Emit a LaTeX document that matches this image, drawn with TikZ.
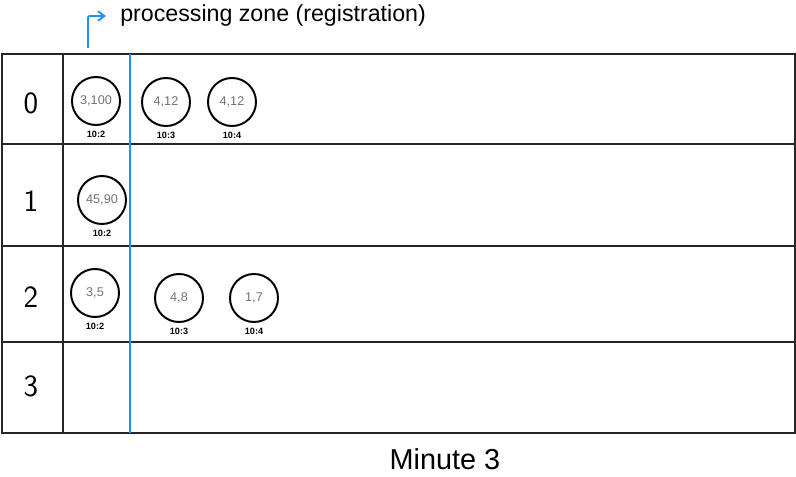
\documentclass[tikz,border=0pt]{standalone}
\usepackage{fontspec}
\setmainfont{Liberation Sans}
\usetikzlibrary{positioning, arrows.meta}

\begin{document}
\begin{tikzpicture}[
    x=0.025cm, y=-0.025cm,
    grid/.style={line width=1.4pt, draw=black!85},
    zoneline/.style={line width=1.3pt, draw={rgb,255:red,30;green,144;blue,255}},
    zonearrow/.style={zoneline, -{Straight Barb[length=1.6mm, width=2.4mm]}, rounded corners=1pt},
    rowlabel/.style={font=\fontsize{22}{24}\selectfont\sffamily, inner sep=0pt},
    bubble/.style={circle, draw=black, line width=1.4pt, minimum size=1.2cm, inner sep=0pt,
                   font=\fontsize{9}{10}\selectfont, text=black!55},
    stamp/.style={font=\fontsize{6.5}{7}\selectfont\bfseries, inner sep=0pt, below=3.5pt of #1},
    caption/.style={font=\fontsize{#1}{#1}\selectfont, inner sep=0pt},
]
\useasboundingbox (0,0) rectangle (796,477);

% table
\draw[grid] (2,54) rectangle (795,433);
\foreach \y in {144, 246, 342}
    \draw[grid] (2,\y) -- (795,\y);
\draw[grid] (63,54) -- (63,433);
\draw[zoneline] (130,54) -- (130,433);

% row numbers
\node[rowlabel] (r0) at (31,103) {0};
\node[rowlabel] (r1) at (31,201) {1};
\node[rowlabel] (r2) at (31,297) {2};
\node[rowlabel] (r3) at (31,386) {3};

% row 0
\node[bubble] (b01) at (96,101)  {3,100};
\node[bubble] (b02) at (166,102) {4,12};
\node[bubble] (b03) at (232,102) {4,12};
\node[stamp=b01] {10:2};
\node[stamp=b02] {10:3};
\node[stamp=b03] {10:4};

% row 1
\node[bubble] (b11) at (102,200) {45,90};
\node[stamp=b11] {10:2};

% row 2
\node[bubble] (b21) at (95,293)  {3,5};
\node[bubble] (b22) at (179,298) {4,8};
\node[bubble] (b23) at (254,298) {1,7};
\node[stamp=b21] {10:2};
\node[stamp=b22] {10:3};
\node[stamp=b23] {10:4};

% processing zone marker
\coordinate (zonefoot) at (88,48);
\node[caption=16.5, anchor=west] (zone) at (120,16) {processing zone (registration)};
\draw[zonearrow] (zonefoot) |- ([xshift=-10pt]zone.west);

\node[caption=20.5] (minute) at (445,459) {Minute 3};
\end{tikzpicture}
\end{document}
